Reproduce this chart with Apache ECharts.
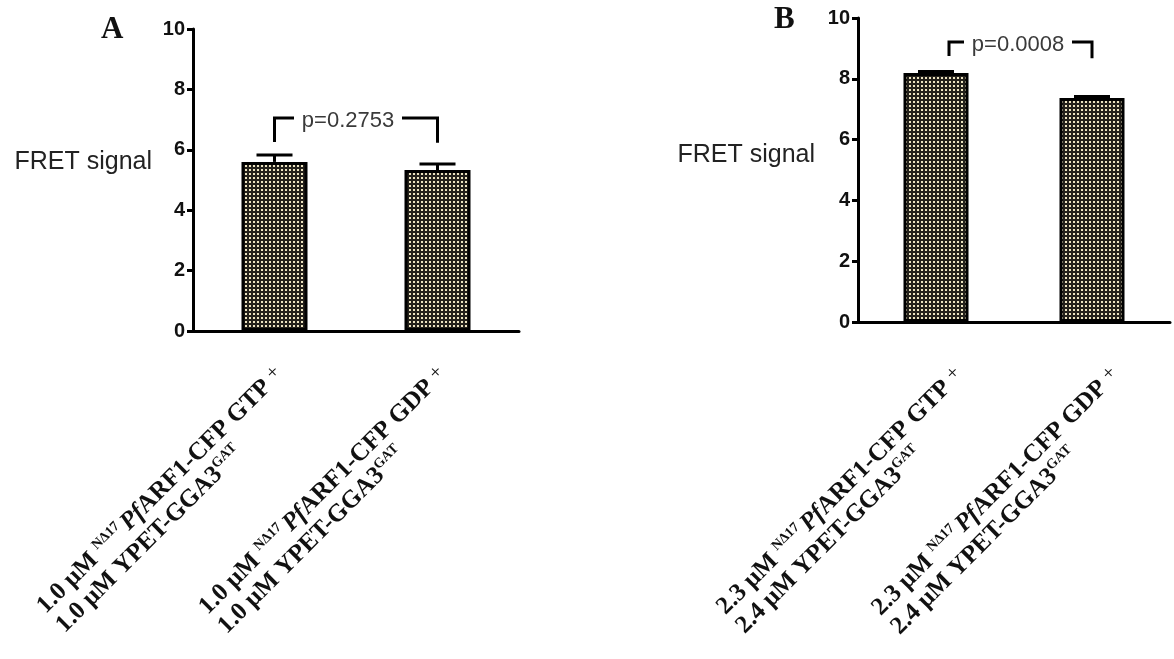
<!DOCTYPE html>
<html>
<head>
<meta charset="utf-8">
<title>FRET signal</title>
<script src="https://cdn.jsdelivr.net/npm/echarts@6/dist/echarts.min.js"></script>
<style>
html, body { margin: 0; padding: 0; background: #fff; }
#chart { width: 1174px; height: 659px; }
</style>
</head>
<body>
<div id="chart"></div>
<script>
// ---- panel A ----
const nucleotidesA = ['GTP', 'GDP'];
const arfConcA = '1.0';
const ypetConcA = '1.0';
const meansA = [5.6, 5.33];
const semA = [0.23, 0.2];
const pValueA = '0.2753';
const bracketA = [6.26, 6.23, 7.05]; // left foot, right foot, top

// ---- panel B ----
const nucleotidesB = ['GTP', 'GDP'];
const arfConcB = '2.3';
const ypetConcB = '2.4';
const meansB = [8.19, 7.37];
const semB = [0.05, 0.05];
const pValueB = '0.0008';
const bracketB = [8.75, 8.68, 9.21];

// y ticks (both panels)
const yTicks = [0, 2, 4, 6, 8, 10];

// 棋盘格填充
function makePattern() {
  const c = document.createElement('canvas');
  c.width = 4;
  c.height = 4;
  const ctx = c.getContext('2d');
  ctx.fillStyle = '#24211b';
  ctx.fillRect(0, 0, 4, 4);
  ctx.fillStyle = '#ece3c0';
  ctx.fillRect(1, 1, 2, 2);
  return { image: c, repeat: 'repeat' };
}
const barFill = makePattern();

function labelFormatter(arf, ypet) {
  return function (nuc) {
    return '{n|' + arf + ' μM }{s|NΔ17 }{i|Pf}{n|ARF1-CFP ' + nuc + ' }{p|+}\n' +
      '{n|' + ypet + ' μM YPET-GGA3}{s|GAT}';
  };
}

const serif = '"Liberation Serif", "Times New Roman", serif';
const sans = '"Liberation Sans", Arial, sans-serif';

const labelRich = {
  n: { fontFamily: serif, fontWeight: 'bold', fontSize: 25, lineHeight: 27, color: '#111', align: 'left' },
  i: { fontFamily: serif, fontWeight: 'bold', fontStyle: 'italic', fontSize: 25, lineHeight: 27, color: '#111', align: 'left' },
  s: { fontFamily: serif, fontWeight: 'bold', fontSize: 14, lineHeight: 18, color: '#111', align: 'left', verticalAlign: 'top' },
  p: { fontFamily: serif, fontSize: 20, lineHeight: 18, color: '#111', align: 'left', verticalAlign: 'top' }
};

function xAxisFor(gridIndex, cats, arf, ypet, padding) {
  return {
    type: 'category',
    gridIndex: gridIndex,
    data: cats,
    axisLine: { lineStyle: { color: '#000', width: 3 } },
    axisTick: { alignWithLabel: true, length: 8, lineStyle: { color: '#000', width: 3 } },
    axisLabel: {
      interval: 0,
      rotate: 45,
      margin: 8,
      verticalAlign: 'top',
      padding: padding,
      formatter: labelFormatter(arf, ypet),
      rich: labelRich
    },
    splitLine: { show: false }
  };
}

function yAxisFor(gridIndex, nameGap, namePad) {
  return {
    type: 'value',
    gridIndex: gridIndex,
    min: yTicks[0],
    max: yTicks[yTicks.length - 1],
    interval: yTicks[1] - yTicks[0],
    name: 'FRET signal',
    nameLocation: 'middle',
    nameRotate: 0,
    nameGap: nameGap,
    nameTextStyle: {
      fontFamily: sans, fontSize: 25, color: '#222',
      align: 'right', verticalAlign: 'bottom', padding: namePad
    },
    axisLine: { show: true, lineStyle: { color: '#000', width: 3 } },
    axisTick: { show: true, length: 6, lineStyle: { color: '#000', width: 3 } },
    axisLabel: { fontFamily: sans, fontWeight: 'bold', fontSize: 20, color: '#111', margin: 8 },
    splitLine: { show: false }
  };
}

// 误差线(只画上半)
function renderError(params, api) {
  const x = api.value(0);
  const base = api.coord([x, api.value(1)]);
  const top = api.coord([x, api.value(1) + api.value(2)]);
  const half = 18;
  const st = { stroke: '#000', lineWidth: 3 };
  return {
    type: 'group',
    children: [
      { type: 'line', shape: { x1: base[0], y1: base[1], x2: top[0], y2: top[1] }, style: st },
      { type: 'line', shape: { x1: top[0] - half, y1: top[1], x2: top[0] + half, y2: top[1] }, style: st }
    ]
  };
}

// 显著性括号  look: 文字偏移 / 左臂偏移
function makeBracket(pText, look) {
  return function (params, api) {
    const l0 = api.coord([api.value(0), api.value(2)]);
    const r0 = api.coord([api.value(1), api.value(3)]);
    const lt = api.coord([api.value(0), api.value(4)]);
    const rt = api.coord([api.value(1), api.value(4)]);
    const mid = (lt[0] + rt[0]) / 2 + look.textDx;
    const lx = lt[0] + look.leftDx;
    const half = 54;
    const st = { stroke: '#000', lineWidth: 3, fill: null };
    return {
      type: 'group',
      children: [
        { type: 'polyline', shape: { points: [[lx, l0[1]], [lx, lt[1]], [mid - half, lt[1]]] }, style: st },
        { type: 'polyline', shape: { points: [[mid + half, rt[1]], rt, r0] }, style: st },
        {
          type: 'text',
          style: {
            text: 'p=' + pText, x: mid, y: lt[1] + 3,
            align: 'center', verticalAlign: 'middle',
            fontFamily: sans, fontSize: 22, fill: '#3a3a3a'
          }
        }
      ]
    };
  };
}

const chart = echarts.init(document.getElementById('chart'));
chart.setOption({
  backgroundColor: '#fff',
  animation: false,
  title: [
    { text: 'A', left: 96, top: 9, textStyle: { fontFamily: serif, fontWeight: 'bold', fontSize: 31, color: '#111' } },
    { text: 'B', left: 769, top: -1, textStyle: { fontFamily: serif, fontWeight: 'bold', fontSize: 31, color: '#111' } }
  ],
  grid: [
    { left: 193, top: 29, width: 326, height: 302, containLabel: false, outerBoundsMode: 'none' },
    { left: 858, top: 18, width: 312, height: 304, containLabel: false, outerBoundsMode: 'none' }
  ],
  xAxis: [
    xAxisFor(0, nucleotidesA, arfConcA, ypetConcA, [13, 19, 0, 0]),
    xAxisFor(1, nucleotidesB, arfConcB, ypetConcB, [33, 13, 0, 0])
  ],
  yAxis: [
    yAxisFor(0, 41, [0, 0, 5, 0]),
    yAxisFor(1, 43, [0, 0, 2, 0])
  ],
  series: [
    {
      type: 'bar', xAxisIndex: 0, yAxisIndex: 0, barWidth: 66, data: meansA,
      itemStyle: { color: barFill, borderColor: '#000', borderWidth: 3 }
    },
    {
      type: 'bar', xAxisIndex: 1, yAxisIndex: 1, barWidth: 65, data: meansB,
      itemStyle: { color: barFill, borderColor: '#000', borderWidth: 3 }
    },
    {
      type: 'custom', xAxisIndex: 0, yAxisIndex: 0, z: 5, renderItem: renderError,
      data: meansA.map((m, i) => [i, m, semA[i]])
    },
    {
      type: 'custom', xAxisIndex: 1, yAxisIndex: 1, z: 5, renderItem: renderError,
      data: meansB.map((m, i) => [i, m, semB[i]])
    },
    {
      type: 'custom', xAxisIndex: 0, yAxisIndex: 0, z: 5,
      renderItem: makeBracket(pValueA, { textDx: -8, leftDx: 0 }),
      data: [[0, 1, bracketA[0], bracketA[1], bracketA[2]]]
    },
    {
      type: 'custom', xAxisIndex: 1, yAxisIndex: 1, z: 5,
      renderItem: makeBracket(pValueB, { textDx: 4, leftDx: 13 }),
      data: [[0, 1, bracketB[0], bracketB[1], bracketB[2]]]
    }
  ]
});
</script>
</body>
</html>
